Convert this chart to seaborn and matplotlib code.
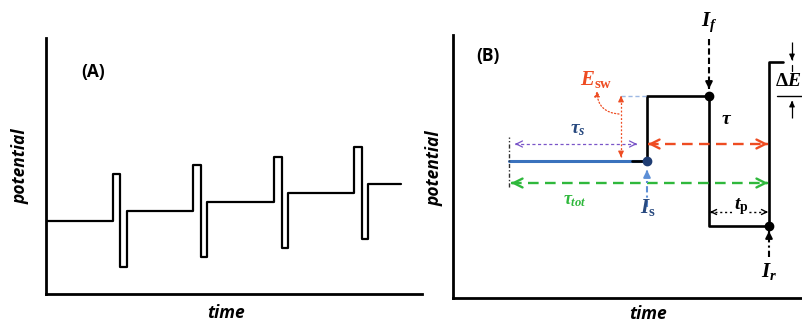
import matplotlib
matplotlib.use('Agg')
import matplotlib.pyplot as plt
import seaborn as sns

# panel A: square wave riding on a staircase (time, potential in arbitrary units)
a_time = [0, 67, 67, 74, 74, 81, 81, 147, 147, 155, 155, 161, 161,
          228, 228, 236, 236, 242, 242, 308, 308, 316, 316, 322, 322, 355]
a_potential = [73, 73, 120, 120, 27, 27, 83, 83, 129, 129, 37, 37, 92,
               92, 137, 137, 46, 46, 101, 101, 147, 147, 55, 55, 110, 110]

# panel B: one cycle in detail
b_step_time = [56, 194]
b_step_potential = [137, 137]
b_wave_time = [179, 194, 194, 256, 256, 316, 316, 330]
b_wave_potential = [137, 137, 202, 202, 72, 72, 236, 236]
b_dot_time = [194, 256, 316]
b_dot_potential = [137, 202, 72]
b_dot_color = ['#1f3d73', 'black', 'black']

RED = '#ee4c22'
GREEN = '#2fb83c'
PURPLE = '#7a55c8'
BLUE = '#3a72bd'
DKBLUE = '#28497f'
LTBLUE = '#5d8fd6'

sns.set_style('white')
plt.rcParams['text.color'] = 'black'
plt.rcParams['mathtext.fontset'] = 'custom'
plt.rcParams['mathtext.it'] = 'Liberation Serif:italic:bold'
plt.rcParams['mathtext.rm'] = 'Liberation Serif:bold'
plt.rcParams['mathtext.bf'] = 'Liberation Serif:bold'

W, H = 803, 322
fig = plt.figure(figsize=(W / 100, H / 100), dpi=100)


def box(l, r, t, b):
    return [l / W, 1 - b / H, (r - l) / W, (b - t) / H]


ax_a = fig.add_axes(box(46, 422, 38, 294))
ax_b = fig.add_axes(box(453, 853, 35, 298))
for ax in (ax_a, ax_b):
    sns.despine(ax=ax)
    for s in ('left', 'bottom'):
        ax.spines[s].set_linewidth(2)
        ax.spines[s].set_color('black')
    ax.set_xticks([])
    ax.set_yticks([])
    ax.set_xlabel('')
    ax.set_ylabel('')
    ax.patch.set_alpha(0)
ax_a.set_xlim(0, 376)
ax_a.set_ylim(0, 256)
ax_b.set_xlim(0, 400)
ax_b.set_ylim(0, 263)

lab = dict(family='Open Sans', weight='bold', style='italic', fontsize=12.5, color='black')
fig.text(21 / W, 1 - 166 / H, 'potential', rotation=90, ha='center', va='center', **lab)
fig.text(226 / W, 1 - 313 / H, 'time', ha='center', va='center', **lab)
fig.text(435 / W, 1 - 168 / H, 'potential', rotation=90, ha='center', va='center', **lab)
fig.text(648 / W, 1 - 314 / H, 'time', ha='center', va='center', **lab)
fig.text(93 / W, 1 - 72 / H, '(A)', ha='center', va='center', family='Open Sans',
         weight='bold', fontsize=12.5, color='black')
fig.text(488 / W, 1 - 56 / H, '(B)', ha='center', va='center', family='Open Sans',
         weight='bold', fontsize=12.5, color='black')

# panel A
sns.lineplot(x=a_time, y=a_potential, sort=False, estimator=None, color='black', lw=1.6, ax=ax_a)

# panel B waveform
sns.lineplot(x=b_step_time, y=b_step_potential, sort=False, estimator=None, color=BLUE, lw=2.2, ax=ax_b)
sns.lineplot(x=b_wave_time, y=b_wave_potential, sort=False, estimator=None, color='black', lw=1.9, ax=ax_b)
for t, e, c in zip(b_dot_time, b_dot_potential, b_dot_color):
    ax_b.plot(t, e, 'o', color=c, ms=6, zorder=5, clip_on=False)


def head(ax, x, y, dx, dy, color, lw, style='->', ms=14):
    ax.annotate('', xy=(x, y), xytext=(x - dx, y - dy),
                arrowprops=dict(arrowstyle=style, color=color, lw=lw,
                                shrinkA=0, shrinkB=0, mutation_scale=ms))


def hline(ax, x0, x1, y, color, lw, dashes, heads='both', style='->', ms=14):
    ax.plot([x0, x1], [y, y], color=color, lw=lw, dashes=dashes, clip_on=False)
    if heads in ('both', 'left'):
        head(ax, x0, y, -2, 0, color, lw, style, ms)
    if heads in ('both', 'right'):
        head(ax, x1, y, 2, 0, color, lw, style, ms)


def vline(ax, x, y0, y1, color, lw, dashes, heads='end', style='-|>', ms=10):
    ax.plot([x, x], [y0, y1], color=color, lw=lw, dashes=dashes, clip_on=False)
    d = 2 if y1 > y0 else -2
    if heads in ('end', 'both'):
        head(ax, x, y1, 0, d, color, lw, style, ms)
    if heads == 'both':
        head(ax, x, y0, 0, -d, color, lw, style, ms)


# tau (red), tau_tot (green), tau_s (purple)
hline(ax_b, 195, 315, 154, RED, 1.7, (4.5, 2.7), ms=16)
hline(ax_b, 58, 315, 115, GREEN, 1.7, (4.5, 2.7), ms=16)
hline(ax_b, 62, 184, 154, PURPLE, 0.9, (2.5, 2), ms=11)
ax_b.plot([56, 56], [111, 161], color='#333333', lw=1, dashes=(3, 1.5, 1, 1.5))

# E_sw
vline(ax_b, 168, 141, 202, RED, 0.9, (1.5, 1.5), heads='both', ms=8)
ax_b.plot([168, 194], [202, 202], color='#9db8e3', lw=1, dashes=(3, 2))
ax_b.annotate('', xy=(144, 207), xytext=(166, 184),
              arrowprops=dict(arrowstyle='-|>', color=RED, lw=0.9, ls=':',
                              shrinkA=0, shrinkB=0, mutation_scale=8,
                              connectionstyle='arc3,rad=-0.45'))

# current sampling arrows
vline(ax_b, 256, 259, 209, 'black', 1.5, (3, 1.5), ms=10)
vline(ax_b, 316, 41, 67, 'black', 1.5, (3, 1.5, 1, 1.5), ms=10)
vline(ax_b, 194, 91, 128, LTBLUE, 1.5, (3, 1.5, 1, 1.5), ms=10)

# t_p
hline(ax_b, 257, 315, 86, 'black', 1, (1.5, 2), ms=9)

# Delta E
vline(ax_b, 339, 256, 238, 'black', 0.9, (10, 0), ms=8)
ax_b.plot([339, 339], [227, 233], color='black', lw=0.9)
vline(ax_b, 339, 180, 197, 'black', 0.9, (10, 0), ms=8)
ax_b.plot([324, 362], [202, 202], color='black', lw=1, clip_on=False)

ax_b.text(256, 276, r'$I_f$', color='black', fontsize=15, ha='center', va='center')
ax_b.text(316, 26, r'$I_r$', color='black', fontsize=15, ha='center', va='center')
ax_b.text(274, 180, r'$\tau$', color='black', fontsize=14, ha='center', va='center')
ax_b.text(125, 170, r'$\tau_s$', color=DKBLUE, fontsize=14, ha='center', va='center')
ax_b.text(122, 98, r'$\tau_{tot}$', color=GREEN, fontsize=13, ha='center', va='center')
ax_b.text(143, 218, r'$E_{\mathrm{sw}}$', color=RED, fontsize=15, ha='center', va='center')
ax_b.text(195, 90, r'$I_{\mathrm{s}}$', color=DKBLUE, fontsize=15, ha='center', va='center')
ax_b.text(288, 91, r'$t_{\mathrm{p}}$', color='black', fontsize=14, ha='center', va='center',
          bbox=dict(facecolor='white', edgecolor='none', pad=0.5))
ax_b.text(348, 218, r'$\Delta E$', color='black', fontsize=14, ha='right', va='center')

fig.savefig('out.png', dpi=100)
